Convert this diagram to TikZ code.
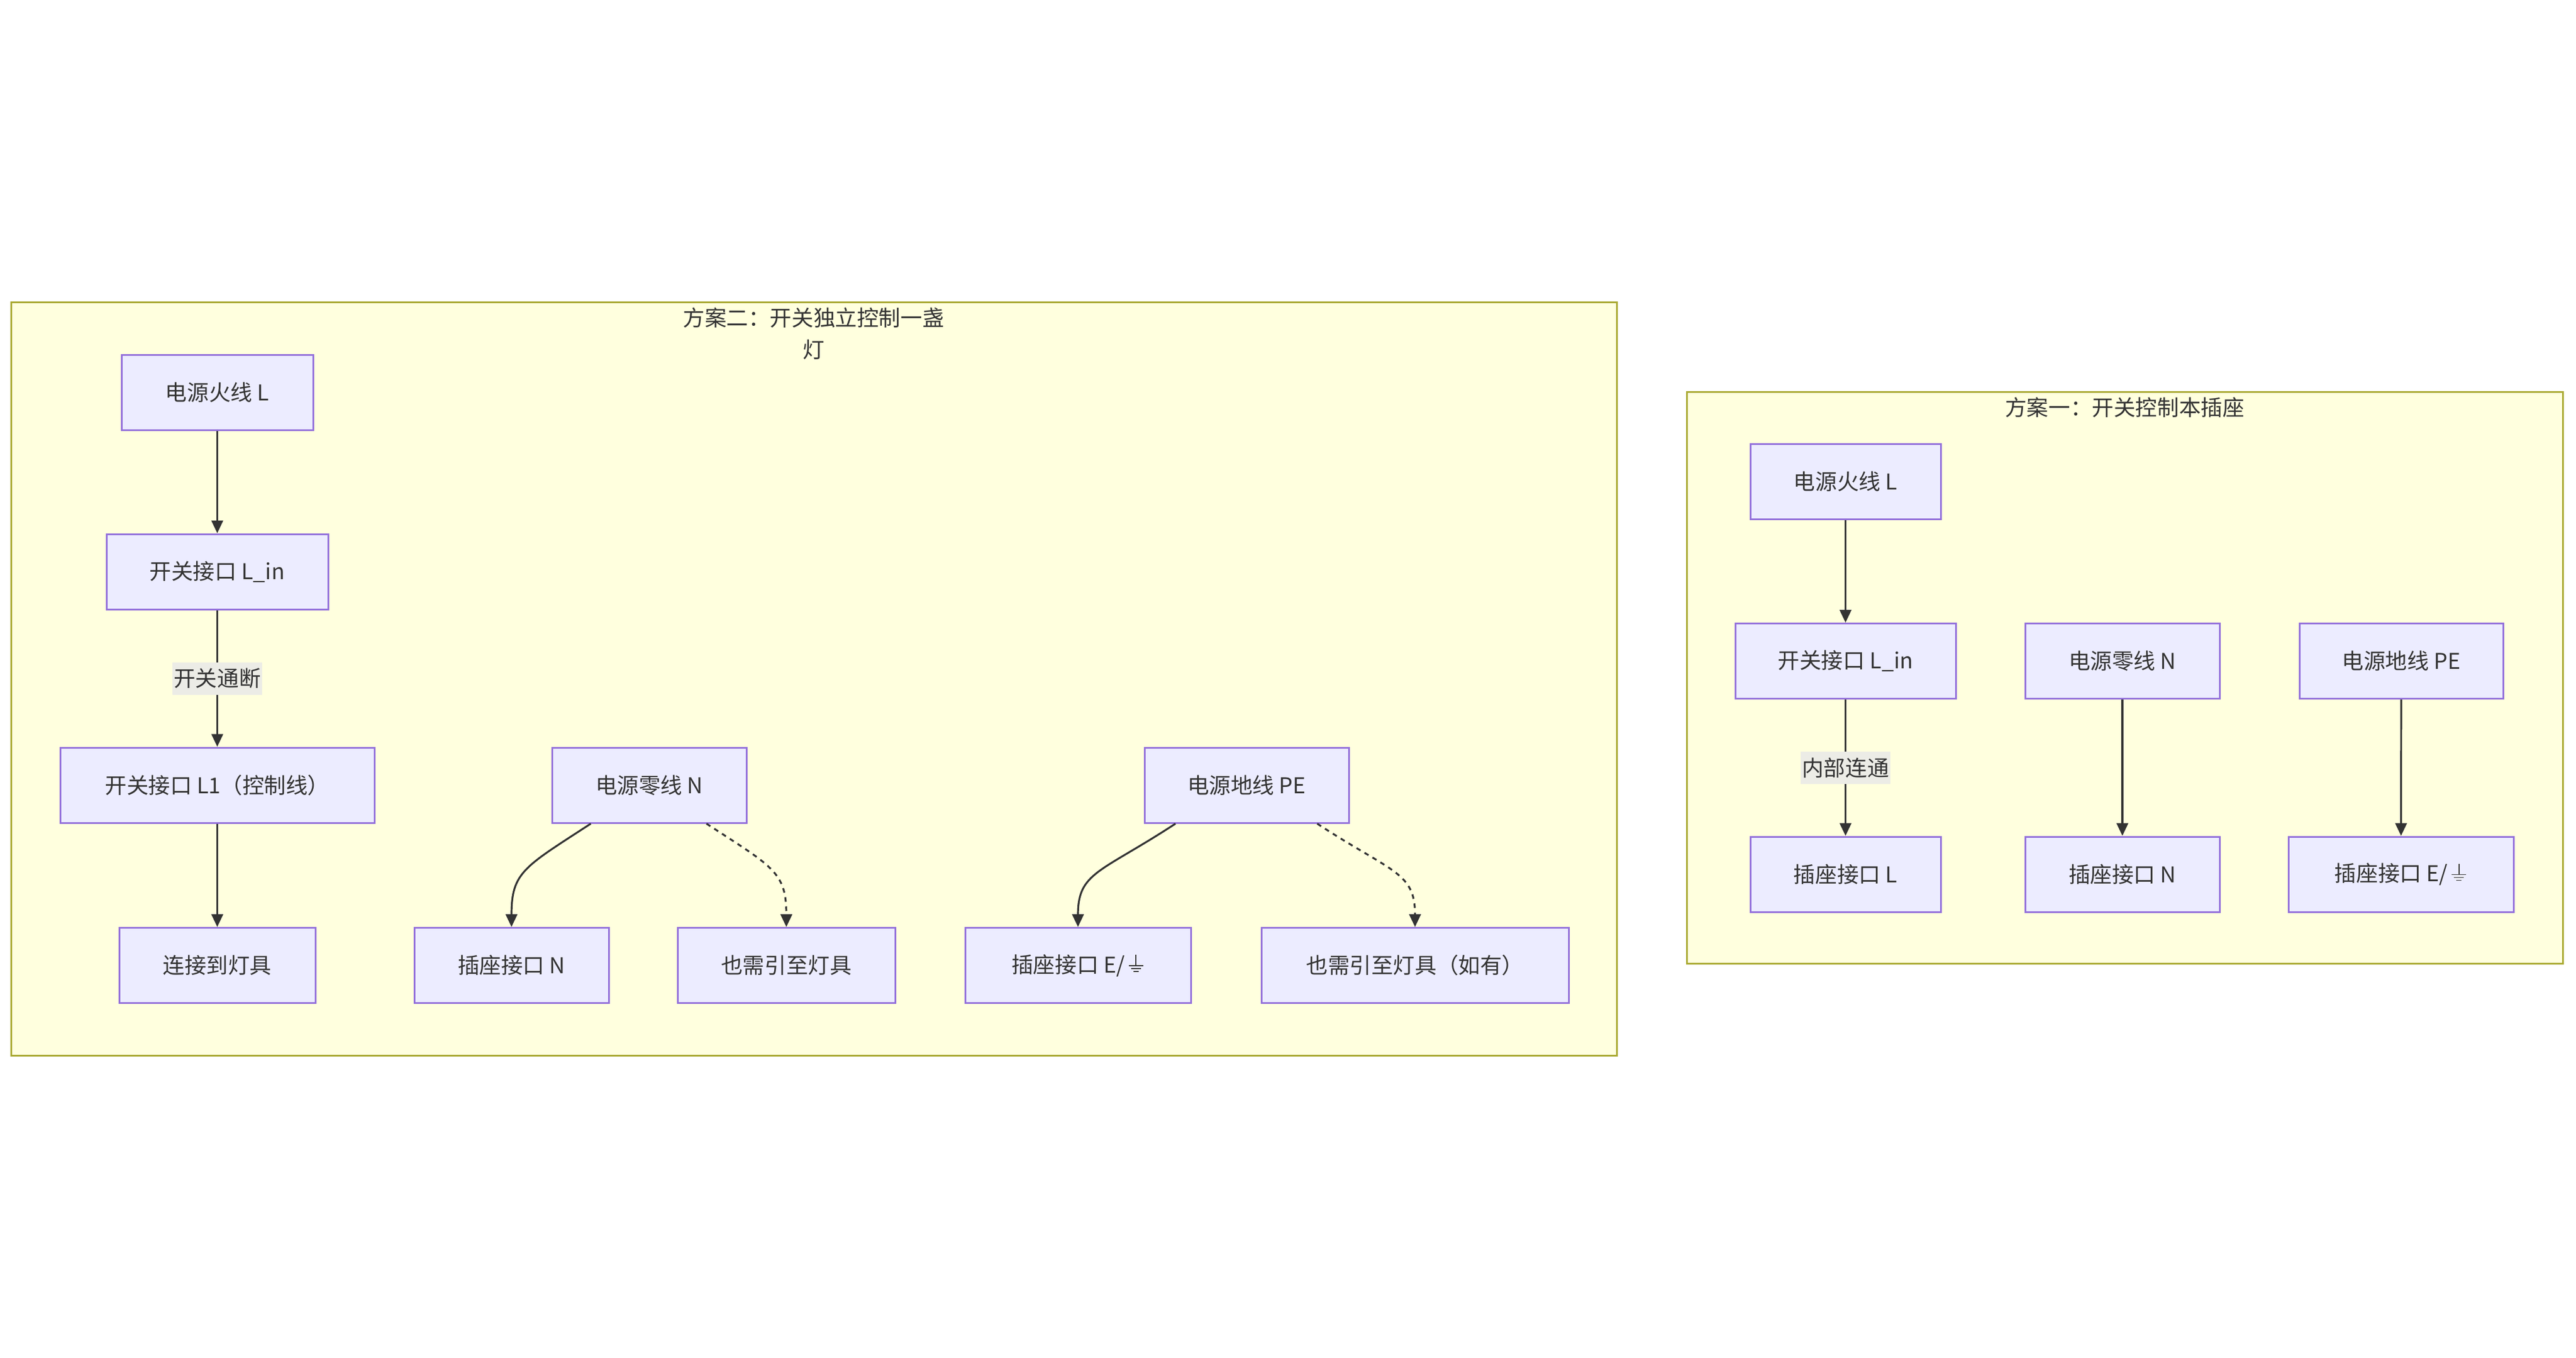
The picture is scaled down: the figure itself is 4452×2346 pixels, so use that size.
\documentclass[tikz,border=0pt]{standalone}
\usepackage{fontspec}
\newfontfamily\cjk{Noto Sans CJK SC}
\usetikzlibrary{positioning}
\usetikzlibrary{arrows.meta}
\definecolor{nodefill}{HTML}{ECECFF}
\definecolor{nodeline}{HTML}{9370DB}
\definecolor{clusterfill}{HTML}{FFFFDE}
\definecolor{clusterline}{HTML}{AAAA33}
\definecolor{inkgray}{HTML}{333333}
\definecolor{labelfill}{RGB}{236,236,230}
% earth symbol (no installed font has it)
\newcommand{\earthsym}{\hspace{1.2pt}\begin{picture}(7.25,7.75)
\linethickness{0.45pt}
\put(0.5,3){\line(1,0){6.25}}
\put(1.5,1.75){\line(1,0){4.25}}
\put(2.5,0.5){\line(1,0){2.25}}
\put(3.625,3){\line(0,1){4.75}}
\end{picture}}
\tikzset{
    Node/.style = {rectangle, draw=nodeline, fill=nodefill, line width=0.75pt, minimum height=32.5pt, align=center, text=inkgray, inner sep=0pt}
}
\tikzset{
    Edge/.style = {draw=inkgray, line width=0.8pt, -{Triangle[length=5.5pt,width=5pt]}}
}
\begin{document}
\begin{tikzpicture}[
    x=0.25pt, y=-0.25pt,
    font=\cjk\fontsize{9.4pt}{13.75pt}\selectfont
]
\tikzset{
    Cluster/.style = {draw=clusterline, fill=clusterfill, line width=0.75pt},
    Lbl/.style = {fill=labelfill, text=inkgray, inner xsep=0.6pt, inner ysep=0pt, minimum height=14pt},
    DotEdge/.style = {Edge, dash pattern=on 2pt off 2pt},
}
\useasboundingbox (0,0) rectangle (4452,2346);
% scheme two
\draw[Cluster] (19,522) rectangle (2794,1824);
\node[text=inkgray, align=center] at (1406,577) (titleB) {方案二：开关独立控制一盏\\灯};
\node[Node, minimum width=82.75pt] at (375.5,678) (pL) {电源火线 L};
\node[Node, minimum width=95.75pt] at (375.5,988) (pLin) {开关接口 L\_in};
\node[Node, minimum width=135.75pt] at (375.5,1357) (pLone) {开关接口 L1（控制线）};
\node[Node, minimum width=84pt] at (1122,1357) (pN) {电源零线 N};
\node[Node, minimum width=88.25pt] at (2154.5,1357) (pPE) {电源地线 PE};
\node[Node, minimum width=84.75pt] at (375.5,1668.5) (pLamp) {连接到灯具};
\node[Node, minimum width=84pt] at (884,1668.5) (pSockN) {插座接口 N};
\node[Node, minimum width=94pt] at (1359,1668.5) (pLampN) {也需引至灯具};
\node[Node, minimum width=97.5pt] at (1863,1668.5) (pSockE) {插座接口 E/\earthsym};
\node[Node, minimum width=132.75pt] at (2445.5,1668.5) (pLampE) {也需引至灯具（如有）};
\path (pL) edge [Edge] (pLin);
\path (pLin) edge [Edge] node[Lbl] {开关通断} (pLone);
\path (pLone) edge [Edge] (pLamp);
\draw[Edge] ([xshift=-25.25pt]pN.south) .. controls +(-115,75) and +(0,-95) .. (pSockN.north);
\draw[DotEdge] ([xshift=24.75pt]pN.south) .. controls +(115,75) and +(0,-95) .. (pLampN.north);
\draw[Edge] ([xshift=-30.75pt]pPE.south) .. controls +(-130,85) and +(0,-95) .. (pSockE.north);
\draw[DotEdge] ([xshift=30.5pt]pPE.south) .. controls +(130,85) and +(0,-95) .. (pLampE.north);
% scheme one
\draw[Cluster] (2915,677) rectangle (4429,1665);
\node[text=inkgray] at (3672,704) (titleA) {方案一：开关控制本插座};
\node[Node, minimum width=82.25pt] at (3189.5,832.5) (sL) {电源火线 L};
\node[Node, minimum width=95.25pt] at (3189.5,1142.5) (sLin) {开关接口 L\_in};
\node[Node, minimum width=84pt] at (3668,1142.5) (sN) {电源零线 N};
\node[Node, minimum width=88pt] at (4150,1142.5) (sPE) {电源地线 PE};
\node[Node, minimum width=82.25pt] at (3189.5,1511) (sSockL) {插座接口 L};
\node[Node, minimum width=84pt] at (3668,1511) (sSockN) {插座接口 N};
\node[Node, minimum width=97.25pt] at (4149.5,1511) (sSockE) {插座接口 E/\earthsym};
\path (sL) edge [Edge] (sLin);
\path (sLin) edge [Edge] node[Lbl] {内部连通} (sSockL);
\path (sN) edge [Edge] (sSockN);
\path (sPE) edge [Edge] (sSockE);
\end{tikzpicture}
\end{document}
